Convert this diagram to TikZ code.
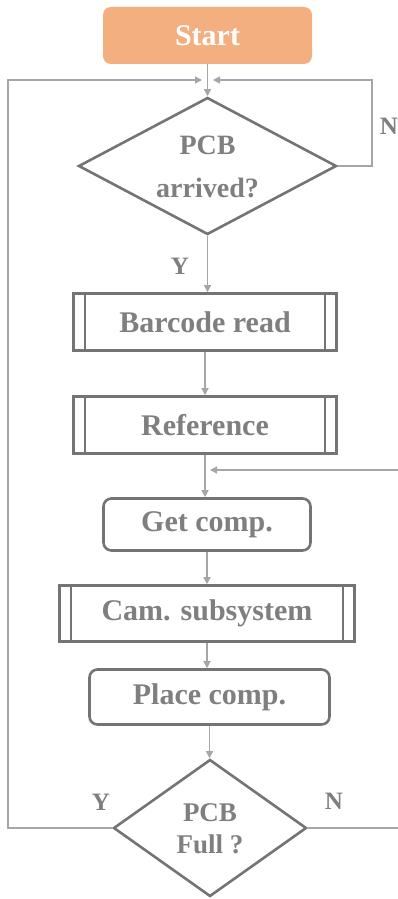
\documentclass[tikz,border=0pt]{standalone}
\usepackage{fontspec}
\setmainfont{Liberation Serif}
\usetikzlibrary{shapes.geometric,arrows.meta}
\definecolor{boxline}{HTML}{747474}
\definecolor{txt}{HTML}{7F7F7F}
\definecolor{conn}{HTML}{A6A6A6}
\definecolor{startfill}{HTML}{F3AF80}
\tikzset{
  base/.style={draw=boxline, line width=2.6pt, text=txt, font=\bfseries\fontsize{30}{32}\selectfont, inner sep=0pt},
  procbox/.style={base, rectangle},
  roundbox/.style={base, rectangle, rounded corners=8pt},
  decision/.style={base, diamond},
  dtext/.style={text=txt, align=center, inner sep=0pt},
  link/.style={draw=conn, line width=1.3pt},
  arr/.style={link, -{Triangle[width=7pt,length=7pt]}},
  lbl/.style={text=txt, font=\bfseries\fontsize{25}{26}\selectfont, inner sep=0pt}
}
\begin{document}
\begin{tikzpicture}[x=1pt,y=-1pt]
\useasboundingbox (0,0) rectangle (398,899);
\clip (0,0) rectangle (398,899);
\fill[white] (0,0) rectangle (398,899);

\node[rectangle, rounded corners=8pt, fill=startfill, text=white, font=\bfseries\fontsize{30}{32}\selectfont,
      minimum width=209pt, minimum height=57pt] (start) at (207.5,35.5) {Start};
\node[decision, minimum width=258pt, minimum height=137pt] (d1) at (207.5,166) {};
\node[dtext, font=\bfseries\fontsize{28}{43}\selectfont] (d1t) at (207.5,167) {PCB\\arrived?};
\node[procbox, minimum width=263pt, minimum height=57pt] (bar) at (205,322) {Barcode read};
\node[procbox, minimum width=263pt, minimum height=57pt] (ref) at (205,425) {Reference};
\node[roundbox, minimum width=207pt, minimum height=52pt] (get) at (207,524.5) {Get comp.};
\node[procbox, minimum width=295pt, minimum height=56pt] (cam) at (207,613.5) {Cam. subsystem};
\node[roundbox, minimum width=240pt, minimum height=55pt] (place) at (209.5,697) {Place comp.};
\node[decision, minimum width=193pt, minimum height=137pt] (d2) at (210,828) {};
\node[dtext, font=\bfseries\fontsize{27}{32}\selectfont] (d2t) at (210,829) {PCB\\Full ?};

% inner bars of predefined-process boxes
\foreach \n/\d in {bar/13pt, ref/13pt, cam/13pt}{
  \draw[boxline, line width=2.2pt] ([xshift=\d]\n.north west) -- ([xshift=\d]\n.south west);
  \draw[boxline, line width=2.2pt] ([xshift=-\d]\n.north east) -- ([xshift=-\d]\n.south east);
}

\coordinate (jl) at (202,80);
\coordinate (jr) at (213,80);
\coordinate (jk) at (210,470);

\draw[arr] (start.south) -- (d1.north);
\draw[arr] (d2.west) -| (8,80) -- (jl);
\draw[arr] (d1.east) -| (372,80) -- (jr);
\draw[arr] (d1.south) -- (d1.south |- bar.north);
\draw[arr] (bar.south) -- (bar.south |- ref.north);
\draw[arr] (ref.south) -- (ref.south |- get.north);
\draw[arr] (d2.east) -- (420,828) |- (jk);
\draw[arr] (get.south) -- (get.south |- cam.north);
\draw[arr] (cam.south) -- (cam.south |- place.north);
\draw[arr] (place.south) -- (place.south |- d2.north);

\node[lbl] (n1) at (389,126) {N};
\node[lbl] (y1) at (180,266) {Y};
\node[lbl] (y2) at (101,802) {Y};
\node[lbl] (n2) at (334,801) {N};
\end{tikzpicture}
\end{document}
